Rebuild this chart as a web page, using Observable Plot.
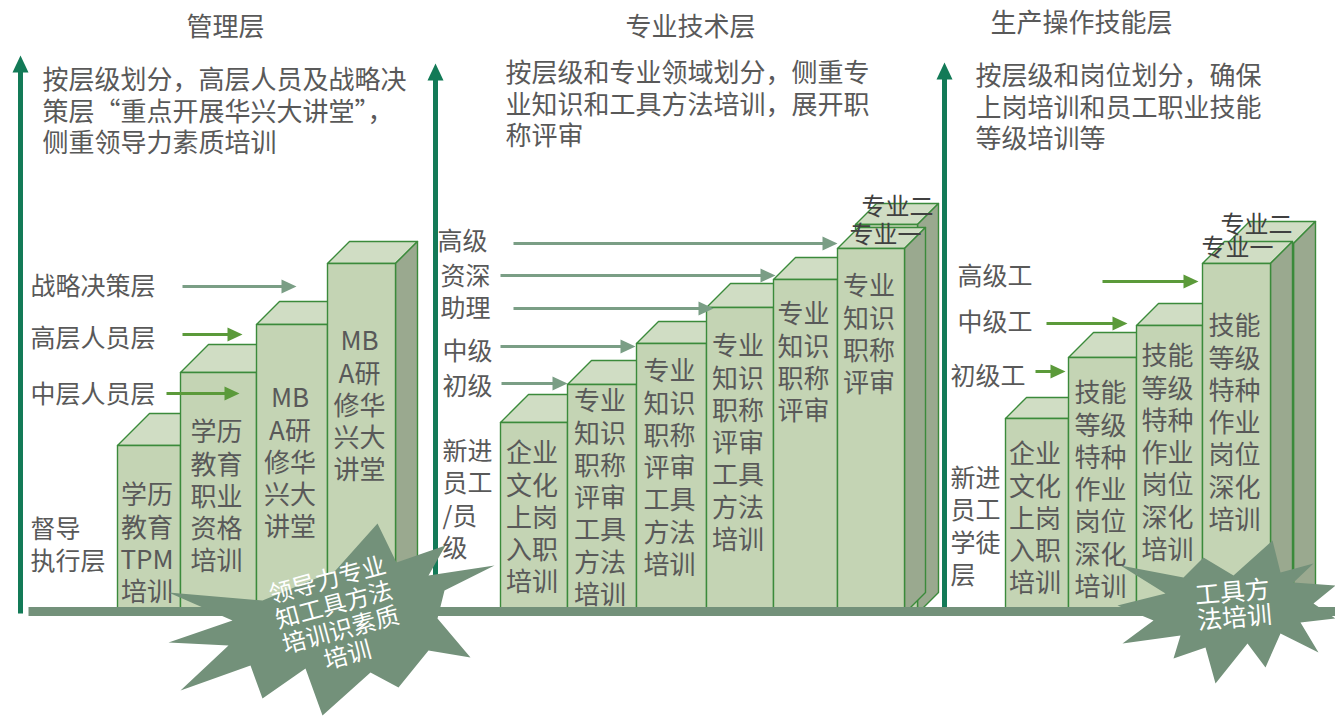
<!DOCTYPE html>
<html><head><meta charset="utf-8">
<script src="https://cdn.jsdelivr.net/npm/d3@7"></script>
<script src="https://cdn.jsdelivr.net/npm/@observablehq/plot@0.6"></script>
<style>body{margin:0;background:#fff}</style>
</head><body><div id="chart"></div>
<script>
// ---------- data (x in picture columns, y = level above the base line) ----------
const panelTitles = ["管理层", "专业技术层", "生产操作技能层"];
const titleX = [225, 690, 1081];
const titleLevel = [582, 582, 586];
const notes = [
  "按层级划分，高层人员及战略决\n策层“重点开展华兴大讲堂”，\n侧重领导力素质培训",
  "按层级和专业领域划分，侧重专\n业知识和工具方法培训，展开职\n称评审",
  "按层级和岗位划分，确保\n上岗培训和员工职业技能\n等级培训等"
];
const noteX = [42, 505, 975];
const noteLevel = [530, 537, 534];

const axisX = [20, 435, 944];
const axisTop = [554, 546, 547];

// panel 1: 管理层
const mgmtEdges = [117, 180, 256, 327, 395];
const mgmtLevels = [164, 237, 285, 346];
const mgmtDepth = [32, 28, 23, 22];
const mgmtCourses = ["学历\n教育\nTPM\n培训", "学历\n教育\n职业\n资格\n培训", "MB\nA研\n修华\n兴大\n讲堂", "MB\nA研\n修华\n兴大\n讲堂"];
const mgmtCourseLevel = [115, 178, 212, 269];
const mgmtRanks = ["战略决策层", "高层人员层", "中层人员层", "督导\n执行层"];
const mgmtRankX = [30, 30, 30, 30];
const mgmtRankLevel = [324, 272, 216, 81];
const mgmtArrowFrom = [182, 182, 166];
const mgmtArrowTo = [296, 242, 239];
const mgmtArrowLevel = [323, 275, 216];
const mgmtArrowColor = ["#7a9e85", "#5b9a3a", "#5b9a3a"];

// panel 2: 专业技术层
const techEdges = [500, 567, 636, 706, 773, 837, 904];
const techLevels = [187, 225, 266, 302, 330, 361];
const techDepth = [28, 24, 22, 24, 22, 21];
const techBack = {x0: 855, x1: 917, level: 385, depth: 21};
const techCourses = ["企业\n文化\n上岗\n入职\n培训", "专业\n知识\n职称\n评审\n工具\n方法\n培训", "专业\n知识\n职称\n评审\n工具\n方法\n培训", "专业\n知识\n职称\n评审\n工具\n方法\n培训", "专业\n知识\n职称\n评审", "专业\n知识\n职称\n评审"];
const techCourseLevel = [157, 209, 239, 264, 296, 324];
const techRanks = ["高级", "资深", "助理", "中级", "初级", "新进\n员工\n/员\n级"];
const techRankX = [437, 440, 440, 442, 442, 442];
const techRankLevel = [369, 334, 302, 259, 224, 159];
const techArrowFrom = [513, 500, 513, 500, 501];
const techArrowTo = [837, 775, 713, 635, 567];
const techArrowLevel = [366, 334, 301, 263, 226];
const techArrowColor = ["#7a9e85", "#7a9e85", "#7a9e85", "#7a9e85", "#7a9e85"];
const techTags = ["专业二", "专业一"];
const techTagX = [897, 885];
const techTagLevel = [402, 374];

// panel 3: 生产操作技能层
const prodEdges = [1005, 1068, 1136, 1202, 1270];
const prodLevels = [191, 252, 284, 346];
const prodDepth = [21, 25, 22, 22];
const prodBack = {x0: 1227, x1: 1293, level: 366, depth: 22};
const prodCourses = ["企业\n文化\n上岗\n入职\n培训", "技能\n等级\n特种\n作业\n岗位\n深化\n培训", "技能\n等级\n特种\n作业\n岗位\n深化\n培训", "技能\n等级\n特种\n作业\n岗位\n深化\n培训"];
const prodCourseLevel = [156, 217, 254, 284];
const prodRanks = ["高级工", "中级工", "初级工", "新进\n员工\n学徒\n层"];
const prodRankX = [957, 957, 950, 950];
const prodRankLevel = [334, 288, 234, 132];
const prodArrowFrom = [1102, 1046, 1035];
const prodArrowTo = [1198, 1127, 1065];
const prodArrowLevel = [328, 286, 238];
const prodArrowColor = ["#5b9a3a", "#5b9a3a", "#5b9a3a"];
const prodTags = ["专业二", "专业一"];
const prodTagX = [1256, 1237];
const prodTagLevel = [384, 361];

// starbursts
const star1 = [[377,86],[396,47],[445,64],[428,34],[494,44],[444,19],[437,-9],[470,-48],[428,-41],[398,-78],[370,-63],[322,-106],[305,-59],[262,-89],[250,-56],[180,-81],[228,-36],[168,-33],[232,-11],[168,17],[262,9],[335,39]];
const star1Text = "领导力专业\n知工具方法\n培训识素质\n培训";
const star1Pos = [337, -8];
const star3 = [[1272,69],[1280,37],[1313,46],[1293,27],[1335,24],[1313,6],[1335,-9],[1300,-13],[1318,-43],[1280,-24],[1265,-58],[1247,-34],[1215,-74],[1205,-38],[1173,-49],[1180,-26],[1122,-34],[1153,-11],[1117,4],[1165,16],[1120,44],[1183,32],[1203,52],[1233,34]];
const star3Text = "工具方\n法培训";
const star3Pos = [1233, 4];

const baseFrom = 28, baseTo = 1335, baseLevel = -2;

// ---------- styles ----------
const FONT = "'Noto Sans CJK SC', 'Noto Sans', sans-serif";
const TXT = "#595959";
const FRONT = "#c4d4b4", TOP = "#d0ddc4", SIDE = "#9aa98f", EDGE = "#3b8a3b";
const STAR = "#73917a", AXIS = "#137a57";
const BOTTOM = -4;

// ---------- build geometry ----------
const barRows = [];
let pid = 0;
function poly(rows, pts, fill) { const id = pid++; pts.forEach(([x, y]) => rows.push({id, x, y, fill})); }
function box(x0, x1, h, d) {
  poly(barRows, [[x0,h],[x1,h],[x1+d,h+d],[x0+d,h+d]], TOP);
  poly(barRows, [[x1,h],[x1+d,h+d],[x1+d,BOTTOM+d],[x1,BOTTOM]], SIDE);
  poly(barRows, [[x0,BOTTOM],[x1,BOTTOM],[x1,h],[x0,h]], FRONT);
}
function bars(edges, levels, depth, back) {
  levels.forEach((h, i) => {
    if (back && i === levels.length - 1) box(back.x0, back.x1, back.level, back.depth);
    box(edges[i], edges[i+1], h, depth[i]);
  });
}
bars(mgmtEdges, mgmtLevels, mgmtDepth, null);
bars(techEdges, techLevels, techDepth, techBack);
bars(prodEdges, prodLevels, prodDepth, prodBack);

const headRows = [];
const shafts = [];
function arrows(from, to, level, color) {
  from.forEach((x1, i) => {
    const x2 = to[i], y = level[i];
    shafts.push({x1, x2: x2 - 12, y1: y, y2: y, color: color[i], w: 3});
    poly(headRows, [[x2, y], [x2 - 15, y + 7], [x2 - 15, y - 7]], color[i]);
  });
}
arrows(mgmtArrowFrom, mgmtArrowTo, mgmtArrowLevel, mgmtArrowColor);
arrows(techArrowFrom, techArrowTo, techArrowLevel, techArrowColor);
arrows(prodArrowFrom, prodArrowTo, prodArrowLevel, prodArrowColor);
axisX.forEach((x, i) => {
  shafts.push({x1: x, x2: x, y1: BOTTOM, y2: axisTop[i] - 14, color: AXIS, w: 5});
  poly(headRows, [[x, axisTop[i]], [x - 8, axisTop[i] - 17], [x + 8, axisTop[i] - 17]], AXIS);
});

const starRows = [];
poly(starRows, star1, STAR);
poly(starRows, star3, STAR);

// text tables
const courseRows = [];
[[mgmtEdges, mgmtCourses, mgmtCourseLevel], [techEdges, techCourses, techCourseLevel], [prodEdges, prodCourses, prodCourseLevel]]
  .forEach(([e, c, l]) => c.forEach((t, i) => courseRows.push({x: (e[i] + e[i+1]) / 2 - 2, y: l[i], t})));
const rankRows = [];
[[mgmtRanks, mgmtRankX, mgmtRankLevel], [techRanks, techRankX, techRankLevel], [prodRanks, prodRankX, prodRankLevel]]
  .forEach(([r, x, l]) => r.forEach((t, i) => rankRows.push({x: x[i], y: l[i], t})));
const tagRows = [];
[[techTags, techTagX, techTagLevel], [prodTags, prodTagX, prodTagLevel]]
  .forEach(([r, x, l]) => r.forEach((t, i) => tagRows.push({x: x[i], y: l[i], t})));
const titleRows = panelTitles.map((t, i) => ({x: titleX[i], y: titleLevel[i], t}));
const noteRows = notes.map((t, i) => ({x: noteX[i], y: noteLevel[i], t}));

const topDy = (fs, lh) => -(0.71 * lh - 0.38) * fs;

const chart = Plot.plot({
  width: 1335, height: 716, margin: 0,
  x: {domain: [0, 1335], axis: null},
  y: {domain: [-107, 609], axis: null},
  color: {type: "identity"},
  style: {background: "#fff", fontFamily: FONT},
  marks: [
    Plot.link(shafts.filter(d => d.w === 5), {x1: "x1", x2: "x2", y1: "y1", y2: "y2", stroke: "color", strokeWidth: 5}),
    Plot.line(barRows, {x: "x", y: "y", z: "id", fill: "fill", stroke: EDGE, strokeWidth: 1.4, curve: "linear-closed", strokeLinejoin: "round"}),
    Plot.text(courseRows, {x: "x", y: "y", text: "t", fontSize: 26, lineHeight: 1.24, lineAnchor: "top", dy: topDy(26, 1.24), fill: TXT, fontFamily: FONT}),
    Plot.link([{x1: baseFrom, x2: baseTo, y: baseLevel}], {x1: "x1", x2: "x2", y1: "y", y2: "y", stroke: STAR, strokeWidth: 9}),
    Plot.link(shafts.filter(d => d.w === 3), {x1: "x1", x2: "x2", y1: "y1", y2: "y2", stroke: "color", strokeWidth: 3}),
    Plot.line(headRows, {x: "x", y: "y", z: "id", fill: "fill", curve: "linear-closed"}),
    Plot.text(rankRows, {x: "x", y: "y", text: "t", textAnchor: "start", fontSize: 25, lineHeight: 1.3, lineAnchor: "top", dy: topDy(25, 1.3), fill: TXT, fontFamily: FONT}),
    Plot.text(tagRows, {x: "x", y: "y", text: "t", fontSize: 24, lineAnchor: "middle", fill: "#404040", fontFamily: FONT}),
    Plot.line(starRows, {x: "x", y: "y", z: "id", fill: "fill", curve: "linear-closed"}),
    Plot.text([{x: star1Pos[0], y: star1Pos[1], t: star1Text}], {x: "x", y: "y", text: "t", rotate: -15, fontSize: 24, lineHeight: 1.08, fill: "#fff", fontFamily: FONT}),
    Plot.text([{x: star3Pos[0], y: star3Pos[1], t: star3Text}], {x: "x", y: "y", text: "t", rotate: -5, fontSize: 25, lineHeight: 1.02, fill: "#fff", fontFamily: FONT}),
    Plot.text(titleRows, {x: "x", y: "y", text: "t", fontSize: 26, fill: TXT, fontFamily: FONT}),
    Plot.text(noteRows, {x: "x", y: "y", text: "t", textAnchor: "start", fontSize: 26, lineHeight: 1.2, lineAnchor: "top", dy: topDy(26, 1.2), fill: TXT, fontFamily: FONT})
  ]
});
document.getElementById("chart").appendChild(chart);
</script>
</body></html>
